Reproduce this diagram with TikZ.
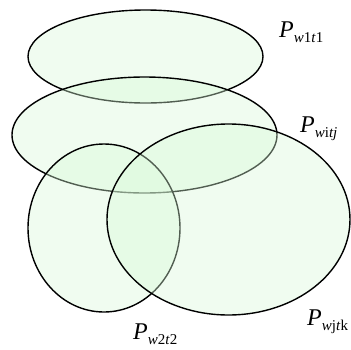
\documentclass[tikz,border=0pt]{standalone}
\usepackage{fontspec}
\setmainfont{Liberation Serif}
\definecolor{setfill}{RGB}{215,248,215}
\tikzset{
  setell/.style={draw=black, line width=1.4pt, fill=setfill, fill opacity=0.38},
  lab/.style={anchor=base west, inner sep=0pt, font=\fontsize{24}{24}\selectfont}
}
\newcommand{\Plab}[1]{\textit{P}\raisebox{-5pt}{\fontsize{15}{15}\selectfont #1}}
\begin{document}
\begin{tikzpicture}[x=1pt,y=-1pt]
\useasboundingbox (0,0) rectangle (351,349);
\path[setell] (145.5,56.5) ellipse [x radius=117.5, y radius=46.5];
\path[setell] (144.5,135) ellipse [x radius=132.5, y radius=58];
\path[setell] (104,228) ellipse [x radius=76, y radius=84];
\path[setell] (228.5,219.5) ellipse [x radius=121.5, y radius=95.5];
\node[lab] (l1) at (279,37) {\Plab{\textit{w}1\textit{t}1}};
\node[lab] (l2) at (300,132) {\Plab{\textit{w}i\textit{tj}}};
\node[lab] (l3) at (133,339) {\Plab{\textit{w}2\textit{t}2}};
\node[lab] (l4) at (307,325) {\Plab{\textit{w}j\textit{t}k}};
\end{tikzpicture}
\end{document}
